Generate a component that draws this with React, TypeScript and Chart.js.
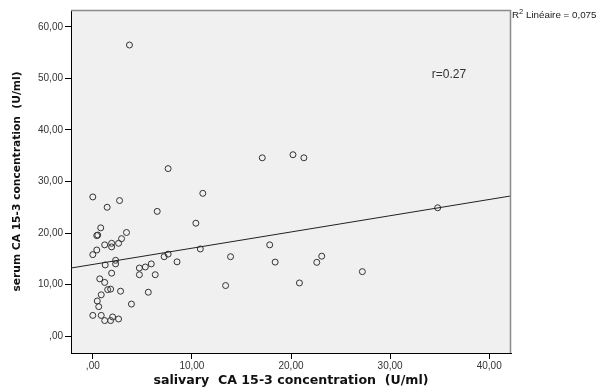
import React, { useEffect, useRef } from "react";
import { Chart, registerables } from "chart.js";

Chart.register(...registerables);

const salivary = [
  3.7, 7.6, 0.0, 2.7, 11.1, 1.45, 6.5, 10.4, 0.8, 0.4, 0.5, 3.4, 2.9, 2.6, 1.9, 1.9, 1.2, 0.4, 0.0, 2.3,
  2.3, 1.25, 4.7, 5.3, 5.9, 7.2, 7.6, 8.5, 10.85, 13.9, 13.4, 4.7, 6.3, 1.9, 0.7, 1.2, 1.8, 1.5, 2.8, 5.6,
  0.85, 0.45, 0.6, 3.9, 0.0, 0.85, 1.2, 1.8, 2.0, 2.6, 17.1, 20.2, 21.3, 34.8, 17.85, 18.4, 22.6, 23.1, 27.2, 20.85,
];
const serum = [
  56.5, 32.5, 27.0, 26.3, 27.7, 25.0, 24.2, 21.9, 21.0, 19.5, 19.6, 20.1, 18.9, 18.0, 18.0, 17.3, 17.7, 16.7, 15.8, 14.7,
  14.0, 13.8, 13.2, 13.4, 14.0, 15.4, 15.9, 14.4, 16.9, 15.4, 9.8, 11.9, 11.9, 12.2, 11.1, 10.4, 9.1, 9.0, 8.7, 8.5,
  8.0, 6.8, 5.7, 6.2, 4.0, 4.0, 3.0, 3.0, 3.7, 3.3, 34.6, 35.2, 34.6, 24.9, 17.7, 14.35, 14.3, 15.5, 12.5, 10.3,
];
const fitX = [-2.2, 42.2];
const fitY = [13.2, 27.2];

const xTickValues = [0, 10, 20, 30, 40];
const xTickLabels = [",00", "10,00", "20,00", "30,00", "40,00"];
const yTickValues = [0, 10, 20, 30, 40, 50, 60];
const yTickLabels = [",00", "10,00", "20,00", "30,00", "40,00", "50,00", "60,00"];

const xTitle = "salivary  CA 15-3 concentration  (U/ml)";
const yTitle = "serum CA 15-3 concentration  (U/ml)";
const rText = "r=0.27";
const r2Prefix = "R";
const r2Sup = "2";
const r2Rest = " Linéaire = 0,075";

const FONT = "'Liberation Sans', Arial, sans-serif";
const TITLE_FONT = "'DejaVu Sans', Verdana, sans-serif";

const decor = {
  id: "decor",
  beforeDraw(chart: any) {
    const { ctx, chartArea: a } = chart;
    ctx.save();
    ctx.fillStyle = "#f0f0f0";
    ctx.fillRect(a.left, a.top, a.right - a.left, a.bottom - a.top);
    ctx.restore();
  },
  afterDraw(chart: any) {
    const { ctx, chartArea: a } = chart;
    ctx.save();
    ctx.strokeStyle = "#8a8a8a";
    ctx.lineWidth = 1.5;
    ctx.beginPath();
    ctx.moveTo(a.left, a.top + 0.5);
    ctx.lineTo(a.right - 0.5, a.top + 0.5);
    ctx.lineTo(a.right - 0.5, a.bottom);
    ctx.stroke();

    ctx.fillStyle = "#333";
    ctx.font = `12px ${FONT}`;
    ctx.textAlign = "center";
    ctx.textBaseline = "middle";
    ctx.fillText(rText, 449, 75);

    ctx.textAlign = "left";
    ctx.textBaseline = "alphabetic";
    ctx.fillStyle = "#222";
    let x = a.right + 1;
    ctx.font = `9.8px ${FONT}`;
    ctx.fillText(r2Prefix, x, 18);
    x += ctx.measureText(r2Prefix).width;
    ctx.font = `7.5px ${FONT}`;
    ctx.fillText(r2Sup, x, 14);
    x += ctx.measureText(r2Sup).width;
    ctx.font = `9.8px ${FONT}`;
    ctx.fillText(r2Rest, x, 18);
    ctx.restore();
  },
};

export default function App() {
  const ref = useRef<HTMLCanvasElement | null>(null);
  useEffect(() => {
    if (!ref.current) return;
    const points = salivary.map((x, i) => ({ x, y: serum[i] }));
    const fit = fitX.map((x, i) => ({ x, y: fitY[i] }));
    const chart = new Chart(ref.current, {
      type: "scatter",
      data: {
        datasets: [
          {
            data: fit,
            showLine: true,
            borderColor: "#222",
            borderWidth: 1,
            pointRadius: 0,
            fill: false,
          } as any,
          {
            data: points,
            pointRadius: 3,
            pointHoverRadius: 3,
            borderColor: "#333",
            backgroundColor: "rgba(0,0,0,0)",
            borderWidth: 1,
          },
        ],
      },
      options: {
        animation: false,
        responsive: false,
        layout: { padding: { top: 10, right: 94, left: 0, bottom: 0 } },
        plugins: { legend: { display: false }, tooltip: { enabled: false } },
        scales: {
          x: {
            type: "linear",
            min: -2.2,
            max: 42.2,
            afterBuildTicks: (s: any) => {
              s.ticks = xTickValues.map((v) => ({ value: v }));
            },
            afterFit: (s: any) => {
              s.height = 37;
            },
            ticks: {
              autoSkip: false,
              maxRotation: 0,
              padding: 1,
              color: "#333",
              font: { family: FONT, size: 10 },
              callback: (v: any) => xTickLabels[xTickValues.indexOf(Number(v))] ?? "",
            },
            grid: { drawOnChartArea: false, tickLength: 6, color: "#000" },
            border: { color: "#000", width: 1 },
            title: {
              display: true,
              text: xTitle,
              color: "#111",
              font: { family: TITLE_FONT, size: 12.6, weight: "bold" },
              padding: { top: 0, bottom: 2 },
            },
          },
          y: {
            type: "linear",
            min: -3.3,
            max: 63.3,
            afterBuildTicks: (s: any) => {
              s.ticks = yTickValues.map((v) => ({ value: v }));
            },
            afterFit: (s: any) => {
              s.width = 71;
            },
            ticks: {
              autoSkip: false,
              padding: 2,
              color: "#333",
              font: { family: FONT, size: 10 },
              callback: (v: any) => yTickLabels[yTickValues.indexOf(Number(v))] ?? "",
            },
            grid: { drawOnChartArea: false, tickLength: 6, color: "#000" },
            border: { color: "#000", width: 1 },
            title: {
              display: true,
              text: yTitle,
              color: "#111",
              font: { family: TITLE_FONT, size: 10.7, weight: "bold" },
              padding: { top: 11, bottom: 0 },
            },
          },
        },
      },
      plugins: [decor],
    });
    return () => chart.destroy();
  }, []);
  return (
    <div style={{ position: "absolute", left: 0, top: 0, width: 605, height: 390 }}>
      <canvas ref={ref} width={605} height={390} style={{ width: 605, height: 390 }} />
    </div>
  );
}
